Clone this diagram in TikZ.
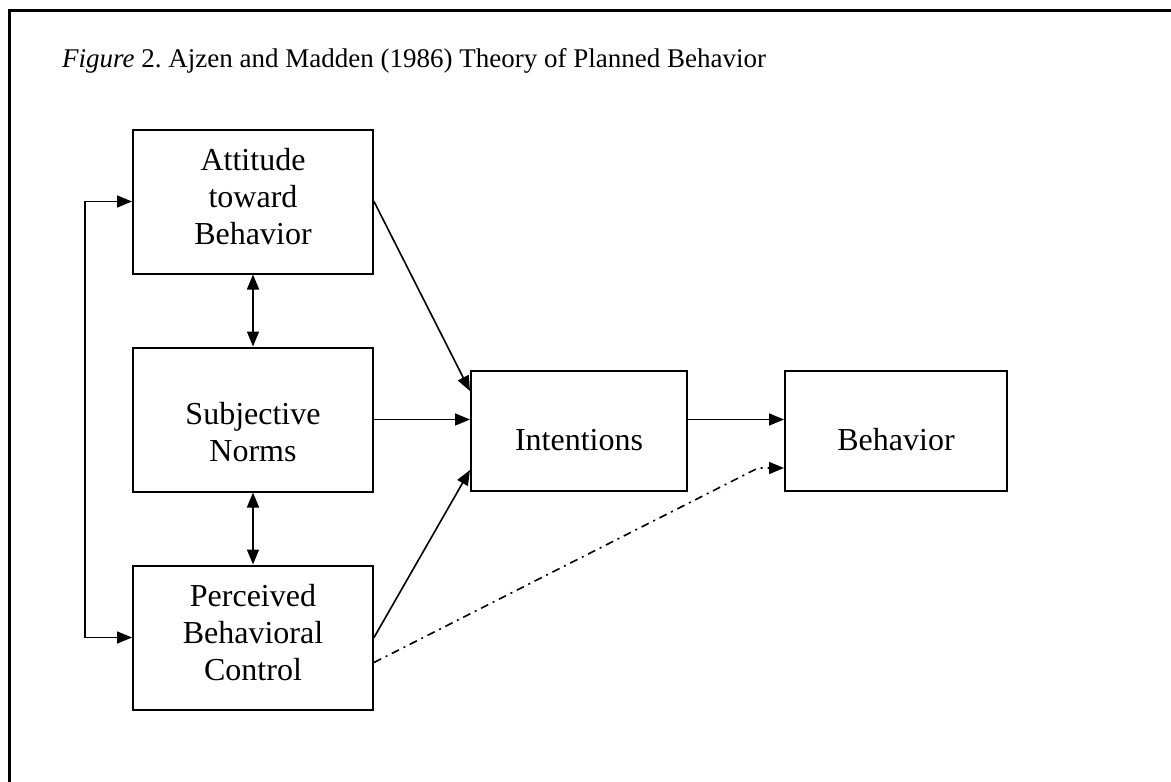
\documentclass[tikz,border=0pt]{standalone}
\usepackage{fontspec}
\setmainfont{Liberation Serif}
\usetikzlibrary{arrows.meta, positioning}
\frenchspacing

\begin{document}
\begin{tikzpicture}[
  x=1pt, y=1pt,
  box/.style={draw, line width=2pt, minimum width=240pt, minimum height=144pt, inner sep=0pt, align=center, font=\fontsize{32}{37}\selectfont},
  smallbox/.style={box, minimum width=216pt, minimum height=120pt, text height=39pt, text depth=0pt},
  caption/.style={font=\fontsize{27}{32}\selectfont, inner sep=0pt, anchor=base west},
  frame/.style={line width=3pt},
  arrow/.style={-{Triangle[length=15pt, width=12pt]}, line width=1.6pt},
  twoway/.style={{Triangle[length=15pt, width=12pt]}-{Triangle[length=15pt, width=12pt]}, line width=1.6pt},
  dashdot/.style={arrow, dash pattern=on 8pt off 5pt on 2pt off 5pt},
]
\useasboundingbox (0,0) rectangle (1171,-782);

% Frame
\draw[frame] (9,-782) -- (9,-10) -- (1171,-10);

% Caption
\node[caption] (cap) at (62,-67) {\textit{Figure} 2. Ajzen and Madden (1986) Theory of Planned Behavior};

% Predictors
\node[box, text height=86pt, text depth=0pt] (att) at (253,-201.5) {Attitude\\toward\\Behavior};
\node[box, below=72pt of att, text height=83pt, text depth=0pt] (sn) {Subjective\\Norms};
\node[box, below=72pt of sn, text height=85pt, text depth=0pt] (pbc) {Perceived\\Behavioral\\Control};

% Outcomes
\node[smallbox, right=96pt of sn, yshift=-11.5pt] (int) {Intentions};
\node[smallbox, right=96pt of int, minimum width=222pt] (beh) {Behavior};

% Arrows
\draw[arrow] (att.east) -- ([yshift=-21pt]int.north west);
\draw[arrow] (sn.east) -- (sn.east -| int.west);
\draw[arrow] (pbc.east) -- ([yshift=22pt]int.south west);
\draw[arrow] (sn.east -| int.east) -- (sn.east -| beh.west);
\draw[dashdot] ([yshift=-25pt]pbc.east) -- ([xshift=-26pt, yshift=24pt]beh.south west) -- ([yshift=24pt]beh.south west);

% Correlations
\draw[twoway] (att) -- (sn);
\draw[twoway] (sn) -- (pbc);
\draw[twoway] (att.west) -- ++(-47pt,0) |- (pbc.west);

\end{tikzpicture}
\end{document}
